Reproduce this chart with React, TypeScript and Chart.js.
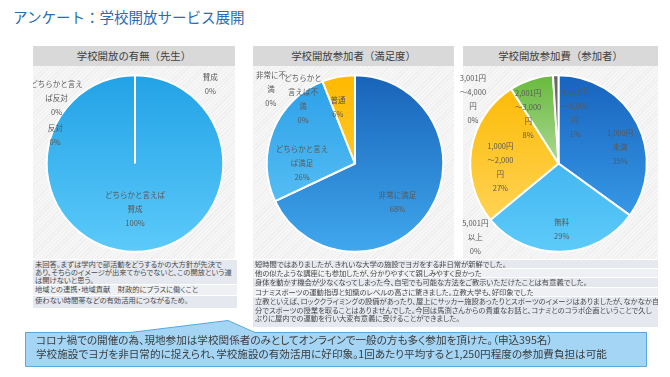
import React, { useEffect, useRef } from "react";
import { Chart, registerables } from "chart.js";
Chart.register(...registerables);

const FONT = '"Noto Sans CJK JP", "Noto Sans", sans-serif';

// ---------- data ----------
const titleText = "アンケート：学校開放サービス展開";

const p1Title = "学校開放の有無（先生）";
const p1Labels = ["賛成", "どちらかと言えば\n賛成", "どちらかと言え\nば反対", "反対"];
const p1Values = [0, 100, 0, 0];

const p2Title = "学校開放参加者（満足度）";
const p2Labels = ["非常に満足", "どちらかと言え\nば満足", "普通", "どちらかと\n言えば不\n満", "非常に不\n満"];
const p2Values = [68, 26, 6, 0, 0];

const p3Title = "学校開放参加費（参加者）";
const p3Labels = [
  "1,000円\n未満",
  "無料",
  "5,001円\n以上",
  "1,000円\n～2,000\n円",
  "3,001円\n～4,000\n円",
  "2,001円\n～3,000\n円",
  "4,001円\n～5,000\n円",
];
const p3Values = [35, 29, 0, 27, 0, 8, 1];

const leftComments = [
  ["未回答。まずは学内で部活動をどうするかの大方針が先決で", "あり、そちらのイメージが出来てからでないと、この開放という道", "は開けないと思う。"],
  ["地域との連携・地域貢献　財政的にプラスに働くこと"],
  ["使わない時間帯などの有効活用につながるため。"],
];
const rightComments = [
  ["短時間ではありましたが、きれいな大学の施設でヨガをする非日常が新鮮でした。"],
  ["他の似たような講座にも参加したが、分かりやすくて親しみやすく良かった"],
  ["身体を動かす機会が少なくなってしまった今、自宅でも可能な方法をご教示いただけたことは有意義でした。"],
  ["コナミスポーツの運動指導と知識のレベルの高さに驚きました。立教大学も、好印象でした"],
  [
    "立教といえば、ロッククライミングの設備があったり、屋上にサッカー施設あったりとスポーツのイメージはありましたが、なかなか自",
    "分でスポーツの授業を取ることはありませんでした。今回は馬渕さんからの貴重なお話と、コナミとのコラボ企画ということで久し",
    "ぶりに屋内での運動を行い大変有意義に受けることができました。",
  ],
];
const summaryLines = [
  "コロナ禍での開催の為、現地参加は学校関係者のみとしてオンラインで一般の方も多く参加を頂けた。（申込395名）",
  "学校施設でヨガを非日常的に捉えられ、学校施設の有効活用に好印象。1回あたり平均すると1,250円程度の参加費負担は可能",
];

// ---------- styles ----------
const p1Colors = [
  ["#22a2e6", "#5ccafa"],
  ["#22a2e6", "#5ccafa"],
  ["#22a2e6", "#5ccafa"],
  ["#22a2e6", "#5ccafa"],
];
const p2Colors = [
  ["#1863b9", "#40a8ee"],
  ["#2b9fe8", "#64c9f8"],
  ["#ffba00", "#ffd24a"],
  ["#2b9fe8", "#64c9f8"],
  ["#2b9fe8", "#64c9f8"],
];
const p3Colors = [
  ["#1863be", "#3ea6f0"],
  ["#2aa3ea", "#5dcbf9"],
  ["#2aa3ea", "#5dcbf9"],
  ["#fcb900", "#ffd866"],
  ["#fcb900", "#ffd866"],
  ["#68ba3c", "#eef6e8"],
  ["#666666", "#8a8a8a"],
];
// label placement: [angle offset from slice middle (deg), radius fraction]
const p1Place = [[43.5, 1.24], [0, 0.52], [-50, 1.16], [-70.4, 0.96]];
const p2Place = [[10, 0.65], [-21.6, 0.6], [-6, 0.67], [-38.7, 0.94], [-48.6, 1.27]];
const p3Place = [[12.4, 0.72], [-1, 0.74], [-2, 1.26], [-13, 0.66], [-20.8, 1.21], [-13.4, 0.66], [20, 0.6]];

const LABEL_COLOR = "#595959";
const RADIUS = 88.3;

type PieProps = {
  labels: string[];
  values: number[];
  colors: string[][];
  place: number[][];
  left: number;
  top: number;
  width: number;
  height: number;
};

function PieChart({ labels, values, colors, place, left, top, width, height }: PieProps) {
  const ref = useRef<HTMLCanvasElement>(null);
  useEffect(() => {
    const canvas = ref.current!;
    const labelPlugin = {
      id: "sliceLabels",
      afterDatasetsDraw(chart: any) {
        const ctx = chart.ctx;
        const meta = chart.getDatasetMeta(0);
        ctx.save();
        ctx.font = `7.5px ${FONT}`;
        ctx.fillStyle = LABEL_COLOR;
        ctx.textAlign = "center";
        ctx.textBaseline = "middle";
        meta.data.forEach((arc: any, i: number) => {
          const p = arc.getProps(["x", "y", "startAngle", "endAngle", "outerRadius"], true);
          const [dDeg, f] = place[i];
          const a = (p.startAngle + p.endAngle) / 2 + (dDeg * Math.PI) / 180;
          const px = p.x + Math.cos(a) * p.outerRadius * f;
          const py = p.y + Math.sin(a) * p.outerRadius * f;
          const lines = [...labels[i].split("\n"), `${values[i]}%`];
          const lh = 14;
          lines.forEach((ln, k) => ctx.fillText(ln, px, py + (k - (lines.length - 1) / 2) * lh));
        });
        ctx.restore();
      },
    };
    const grad = (c: any) => {
      const stops = colors[c.dataIndex];
      const chart = c.chart;
      const area = chart.chartArea;
      if (!area) return stops[0];
      const cy = (area.top + area.bottom) / 2;
      const g = chart.ctx.createLinearGradient(0, cy - RADIUS, 0, cy + RADIUS);
      g.addColorStop(0, stops[0]);
      g.addColorStop(1, stops[1]);
      return g;
    };
    const chart = new Chart(canvas, {
      type: "pie",
      data: {
        labels,
        datasets: [
          {
            data: values,
            backgroundColor: grad as any,
            borderColor: "#ffffff",
            borderWidth: 2,
          },
        ],
      },
      options: {
        animation: false,
        responsive: false,
        devicePixelRatio: 1,
        radius: RADIUS,
        layout: { padding: 0 },
        events: [],
        plugins: { legend: { display: false }, tooltip: { enabled: false } },
      } as any,
      plugins: [labelPlugin],
    });
    return () => chart.destroy();
  }, []);
  return (
    <canvas
      ref={ref}
      width={width}
      height={height}
      style={{ position: "absolute", left, top, width, height }}
    />
  );
}

const hatch =
  "repeating-linear-gradient(135deg, #efefef 0px, #efefef 1px, #f6f6f6 1px, #f6f6f6 3px)";

function Panel({ title, left, width }: { title: string; left: number; width: number }) {
  return (
    <>
      <div
        style={{
          position: "absolute",
          left,
          top: 65.5,
          width,
          height: 193,
          background: hatch,
        }}
      />
      <div
        style={{
          position: "absolute",
          left,
          top: 45.5,
          width,
          height: 20,
          background: "#d9d9d9",
          color: "#404040",
          fontSize: 10.4,
          lineHeight: "20px",
          textAlign: "center",
          fontFamily: FONT,
        }}
      >
        {title}
      </div>
    </>
  );
}

function CommentTable({
  rows,
  left,
  top,
  width,
  lineH,
  extra,
}: {
  rows: string[][];
  left: number;
  top: number;
  width: number;
  lineH: number;
  extra: number[];
}) {
  return (
    <div style={{ position: "absolute", left, top, width, fontFamily: FONT }}>
      {rows.map((r, i) => (
        <div
          key={i}
          style={{
            background: i % 2 === 0 ? "#e5e8ef" : "#eef0f4",
            borderTop: i === 0 ? "none" : "1px solid #ffffff",
            paddingLeft: 2,
            paddingBottom: extra[i],
            fontSize: 7.3,
            lineHeight: `${lineH}px`,
            color: "#4a4a4a",
            whiteSpace: "nowrap",
            fontFeatureSettings: '"palt"',
            overflow: "hidden",
          }}
        >
          {r.map((ln, k) => (
            <div key={k}>{ln}</div>
          ))}
        </div>
      ))}
    </div>
  );
}

export default function App() {
  return (
    <div
      style={{
        position: "fixed",
        left: 0,
        top: 0,
        width: 670,
        height: 377,
        background: "#ffffff",
        overflow: "hidden",
        fontFamily: FONT,
      }}
    >
      <div
        style={{
          position: "absolute",
          left: 13,
          top: 9,
          fontSize: 14.5,
          lineHeight: "16px",
          color: "#2a6db4",
          whiteSpace: "nowrap",
        }}
      >
        {titleText}
      </div>

      <Panel title={p1Title} left={33} width={202} />
      <Panel title={p2Title} left={253} width={201} />
      <Panel title={p3Title} left={463} width={195} />

      <PieChart labels={p1Labels} values={p1Values} colors={p1Colors} place={p1Place} left={33} top={66} width={204} height={195} />
      <PieChart labels={p2Labels} values={p2Values} colors={p2Colors} place={p2Place} left={253} top={66} width={204} height={195} />
      <PieChart labels={p3Labels} values={p3Values} colors={p3Colors} place={p3Place} left={452} top={66} width={213} height={195} />

      <CommentTable rows={leftComments} left={33} top={259.5} width={204} lineH={8} extra={[0, 2, 4]} />
      <CommentTable rows={rightComments} left={253} top={259.5} width={405} lineH={8.4} extra={[0, 0, 0, 0, 5]} />

      <svg
        width={670}
        height={377}
        style={{ position: "absolute", left: 0, top: 0 }}
      >
        <path
          d="M25.5,332.5 H130 L228,320.5 L255,332.5 H646.5 V366.5 H25.5 Z"
          fill="#a4d5f4"
          stroke="#55a9df"
          strokeWidth={1}
        />
      </svg>
      <div
        style={{
          position: "absolute",
          left: 36,
          top: 332.5,
          fontSize: 10.6,
          lineHeight: "14px",
          color: "#3c3c3c",
          whiteSpace: "nowrap",
          fontFeatureSettings: '"palt"',
        }}
      >
        {summaryLines.map((l, i) => (
          <div key={i}>{l}</div>
        ))}
      </div>
    </div>
  );
}
